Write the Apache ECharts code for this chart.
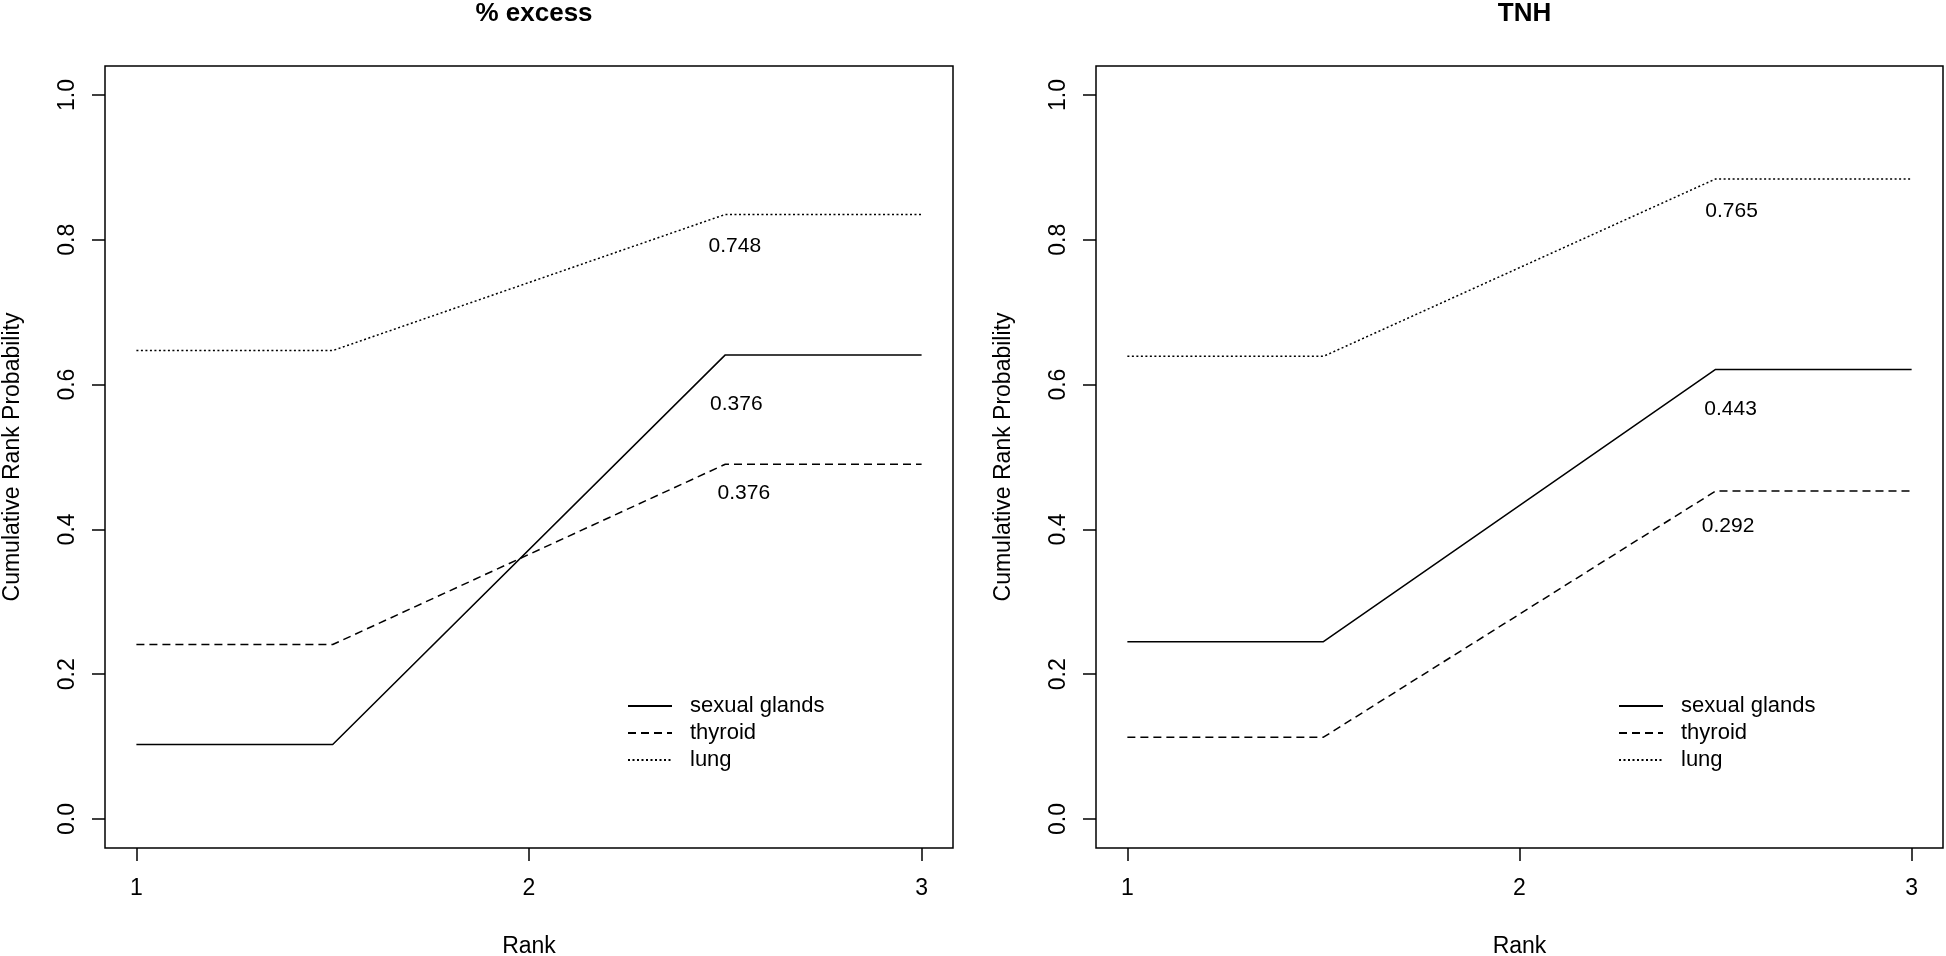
<!DOCTYPE html>
<html>
<head>
<meta charset="utf-8">
<script src="https://cdn.jsdelivr.net/npm/echarts@6/dist/echarts.min.js"></script>
<style>
html,body{margin:0;padding:0;background:#fff;}
#chart{width:1946px;height:956px;}
</style>
</head>
<body>
<div id="chart"></div>
<script>
// ---- data ----
const panelTitles = ['% excess', 'TNH'];
const seriesNames = ['sexual glands', 'thyroid', 'lung'];
const ranks = [1, 1.5, 2.5, 3];
const excessSexual = [0.103, 0.103, 0.641, 0.641];
const excessThyroid = [0.241, 0.241, 0.490, 0.490];
const excessLung = [0.647, 0.647, 0.835, 0.835];
const tnhSexual = [0.245, 0.245, 0.621, 0.621];
const tnhThyroid = [0.113, 0.113, 0.453, 0.453];
const tnhLung = [0.639, 0.639, 0.884, 0.884];
const excessSucra = [0.376, 0.376, 0.748];
const tnhSucra = [0.443, 0.292, 0.765];
const xTicks = [1, 2, 3];
const yTicks = [0, 0.2, 0.4, 0.6, 0.8, 1.0];
const yTickLabels = ['0.0', '0.2', '0.4', '0.6', '0.8', '1.0'];
const xAxisTitle = 'Rank';
const yAxisTitle = 'Cumulative Rank Probability';

// ---- styling ----
const FONT = '"Liberation Sans", Arial, sans-serif';
const lineTypes = ['solid', [8, 5], [2, 2.5]];
const grids = [
  {left: 105, top: 66, width: 848, height: 782},
  {left: 1096, top: 66, width: 847, height: 782}
];
const labelOffsets = [
  [[11, 49], [18.5, 28.5], [9.5, 32]],
  [[15, 39.5], [12.5, 35.3], [16, 32.4]]
];
const panelData = [
  [excessSexual, excessThyroid, excessLung],
  [tnhSexual, tnhThyroid, tnhLung]
];
const panelSucra = [excessSucra, tnhSucra];

const chart = echarts.init(document.getElementById('chart'), null, {renderer: 'canvas'});

const option = {
  backgroundColor: '#fff',
  animation: false,
  title: panelTitles.map((t, i) => ({
    text: t,
    left: grids[i].left + grids[i].width / 2,
    textAlign: 'center',
    top: -4,
    textStyle: {fontFamily: FONT, fontWeight: 'bold', fontSize: 26, color: '#000'}
  })),
  grid: grids.map(g => ({
    left: g.left, top: g.top, width: g.width, height: g.height,
    show: true, borderColor: '#000', borderWidth: 1.5, backgroundColor: 'transparent',
    containLabel: false,
    outerBoundsMode: 'none'
  })),
  legend: grids.map((g, i) => ({
    data: seriesNames,
    orient: 'vertical',
    left: g.left + 517,
    top: 690,
    itemWidth: 44,
    itemHeight: 14,
    itemGap: 5,
    selectedMode: false,
    itemStyle: {opacity: 0},
    textStyle: {fontFamily: FONT, fontSize: 22, color: '#000', lineHeight: 22, padding: [0, 0, 0, 13]}
  })),
  xAxis: grids.map((g, i) => ({
    type: 'value',
    gridIndex: i,
    min: 0.92, max: 3.08,
    name: xAxisTitle,
    nameLocation: 'middle',
    nameGap: 87,
    nameTextStyle: {fontFamily: FONT, fontSize: 23, color: '#000'},
    axisLine: {show: false, onZero: false},
    splitLine: {show: false},
    axisTick: {show: true, inside: false, length: 13, customValues: xTicks, lineStyle: {color: '#000', width: 1.5}},
    axisLabel: {show: true, customValues: xTicks, margin: 29, fontFamily: FONT, fontSize: 23, color: '#000',
      formatter: v => String(v)}
  })),
  yAxis: grids.map((g, i) => ({
    type: 'value',
    gridIndex: i,
    min: -0.04, max: 1.04,
    name: yAxisTitle,
    nameLocation: 'middle',
    nameGap: 81,
    nameTextStyle: {fontFamily: FONT, fontSize: 23, color: '#000'},
    axisLine: {show: false, onZero: false},
    splitLine: {show: false},
    axisTick: {show: true, inside: false, length: 13, customValues: yTicks, lineStyle: {color: '#000', width: 1.5}},
    axisLabel: {show: true, customValues: yTicks, rotate: 90, margin: 26, fontFamily: FONT, fontSize: 23, color: '#000',
      formatter: v => yTickLabels[yTicks.findIndex(t => Math.abs(t - v) < 1e-9)] ?? v.toFixed(1)}
  })),
  series: []
};

panelData.forEach((arrs, p) => {
  arrs.forEach((vals, s) => {
    option.series.push({
      name: seriesNames[s],
      type: 'line',
      xAxisIndex: p,
      yAxisIndex: p,
      data: ranks.map((r, k) => [r, vals[k]]),
      symbol: 'none',
      showSymbol: false,
      lineStyle: {color: '#000', width: 1.5, type: lineTypes[s]},
      itemStyle: {color: 'transparent', borderColor: 'transparent'},
      silent: true,
      markPoint: {
        symbol: 'circle',
        symbolSize: 0,
        silent: true,
        data: [{coord: [ranks[2], vals[2]], value: panelSucra[p][s]}],
        label: {
          show: true,
          position: 'inside',
          offset: labelOffsets[p][s],
          formatter: d => d.value.toFixed(3),
          fontFamily: FONT, fontSize: 21, color: '#000'
        }
      }
    });
  });
});

chart.setOption(option);
</script>
</body>
</html>
